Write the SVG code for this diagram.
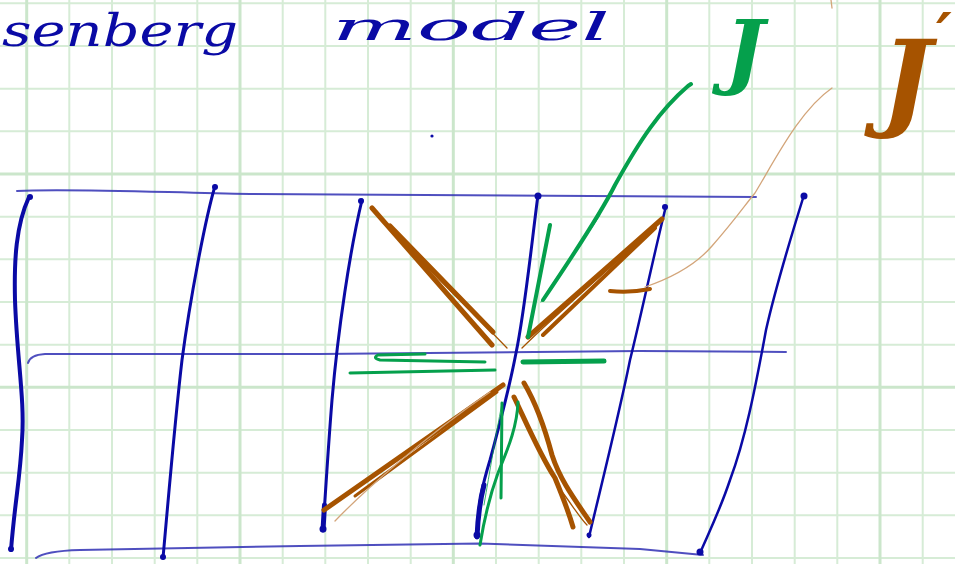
<svg xmlns="http://www.w3.org/2000/svg" width="955" height="564" viewBox="0 0 955 564">
<style>
.gmin{stroke:#d6ecd6;stroke-width:2;fill:none}
.gmaj{stroke:#cbe6cb;stroke-width:3;fill:none}
.h{stroke:#3030b4;stroke-opacity:0.85;stroke-width:2;fill:none;stroke-linecap:round}
.v{stroke:#0a0aa5;stroke-width:3;fill:none;stroke-linecap:round;stroke-linejoin:round}
.br{stroke:#a65300;stroke-width:5;fill:none;stroke-linecap:round}
.brt{stroke:#a65300;stroke-width:1.3;fill:none;stroke-linecap:round}
.brl{stroke:#d3a57a;stroke-width:1.3;fill:none;stroke-linecap:round}
.gr{stroke:#05a04c;stroke-width:4;fill:none;stroke-linecap:round;stroke-linejoin:round}
.grt{stroke:#05a04c;stroke-width:0.8;fill:none;stroke-linecap:round}
.hw{font-family:"DejaVu Serif","Liberation Serif",serif;font-style:italic}
</style>
<rect width="955" height="564" fill="#ffffff"/>
<g id="grid">
<path class="gmin" d="M69.3,0V564M112,0V564M154.7,0V564M197.3,0V564M282.7,0V564M325.3,0V564M368,0V564M410.7,0V564M496,0V564M538.7,0V564M581.3,0V564M624,0V564M709.3,0V564M752,0V564M794.7,0V564M837.3,0V564M922.7,0V564M0,3.3H955M0,46H955M0,88.7H955M0,131.3H955M0,216.7H955M0,259.3H955M0,302H955M0,344.7H955M0,430H955M0,472.7H955M0,515.3H955M0,558H955"/>
<path class="gmaj" d="M26.7,0V564M240,0V564M453.3,0V564M666.7,0V564M880,0V564M0,174H955M0,387.3H955"/>
</g>
<g id="title" fill="#0a0aa5">
<text class="hw" x="2" y="46" font-size="44" textLength="236" lengthAdjust="spacingAndGlyphs">senberg</text>
<text class="hw" x="332" y="40" font-size="40" textLength="278" lengthAdjust="spacingAndGlyphs">model</text>
<circle cx="432" cy="136" r="1.6"/>
</g>
<g id="lattice">
<path class="h" d="M17,191 C60,188 150,192 250,194 L756,197"/>
<path class="h" d="M28,363 Q30,355 45,354 L320,354 L640,351 L786,352"/>
<path class="h" d="M36,558 Q45,551 80,550 L300,546 L480,543.5 L640,549 L703,555"/>
<path class="v" style="stroke-width:4" d="M29,197 C16,225 14,260 15,300 C17,360 25,400 22,440 C20,480 15,500 11,550"/>
<path class="v" d="M215,186 C205,220 190,300 182,360 C175,420 170,480 163,558"/>
<path class="v" d="M362,200 C350,250 338,330 332,400 C328,450 325,500 323,530"/>
<path class="v" d="M538,195 C532,240 525,310 516,353 C508,395 498,430 490,460 C484,480 478,500 477,537"/>
<path class="v" style="stroke-width:2.5" d="M666,206 C655,250 640,320 630,360 C620,410 605,470 589,537"/>
<path class="v" style="stroke-width:2.5" d="M804,195 C790,240 775,290 766,330 C755,390 745,440 730,480 C720,510 710,530 700,553"/>
<g fill="#0a0aa5">
<circle cx="30" cy="197" r="3"/><circle cx="215" cy="187" r="3"/><circle cx="361" cy="201" r="3"/>
<circle cx="538" cy="196" r="3.5"/><circle cx="665" cy="207" r="3"/><circle cx="804" cy="196" r="3.5"/>
<circle cx="11" cy="549" r="3"/><circle cx="163" cy="557" r="3"/><circle cx="323" cy="529" r="3.5"/>
<circle cx="477" cy="535" r="3.5"/><circle cx="589" cy="535" r="2.5"/><circle cx="700" cy="552" r="3.5"/>
</g>
<path class="v" style="stroke-width:5" d="M324.5,505 L323,530"/>
<path class="v" style="stroke-width:5" d="M484,485 C480,500 478,515 477,537"/>
</g>
<g id="jprime-bonds">
<path class="br" d="M372,208 L492,345"/>
<path class="br" d="M390,226 L493,332"/>
<path class="brt" d="M392,232 C440,280 480,320 507,348"/>
<path class="br" d="M528,337 L662,219"/>
<path class="br" style="stroke-width:4" d="M543,335 L655,228"/>
<path class="brt" d="M522,348 C560,310 620,260 660,222"/>
<path class="br" d="M324,510 L503,385"/>
<path class="br" style="stroke-width:3" d="M355,496 L497,392"/>
<path class="brl" d="M335,521 C360,495 420,440 490,392"/>
<path class="br" d="M524,383 C540,410 548,440 552,455 C560,480 575,500 590,522"/>
<path class="br" d="M514,397 C525,420 540,455 555,478 C562,495 568,510 573,527"/>
<path class="brt" d="M563,493 C572,505 580,518 587,525"/>
<path class="br" style="stroke-width:4" d="M610,291 Q630,293 650,289"/>
<path class="brl" d="M645,287 C680,275 700,260 712,246 C735,220 745,205 755,193 C775,160 800,110 832,88"/>
<path class="brl" d="M831,0 L832,8"/>
</g>
<g id="j-bonds">
<path class="gr" d="M543,300 C570,260 600,215 615,185 C640,140 660,110 688,86 L691,84"/>
<path class="grt" d="M541,302 C560,270 585,240 600,215"/>
<path class="gr" d="M550,225 L528,337"/>
<path class="gr" style="stroke-width:3" d="M425,354 L378,355 Q372,358 380,360 L485,362 M350,373 L495,370"/>
<path class="gr" style="stroke-width:5" d="M523,362 L604,361"/>
<path class="gr" style="stroke-width:3" d="M502,403 L501,498"/>
<path class="gr" style="stroke-width:3" d="M518,402 C517,430 505,455 498,473 C490,495 484,520 480,545"/>
<path class="grt" d="M502,403 C495,440 490,470 484,505"/>
</g>
<g id="labels">
<text class="hw" x="725" y="79" font-size="83" font-weight="bold" fill="#05a04c">J</text>
<text class="hw" x="881" y="117" font-size="107" font-weight="bold" fill="#a65300">J<tspan x="936" y="56" font-size="60">′</tspan></text>
</g>
</svg>
